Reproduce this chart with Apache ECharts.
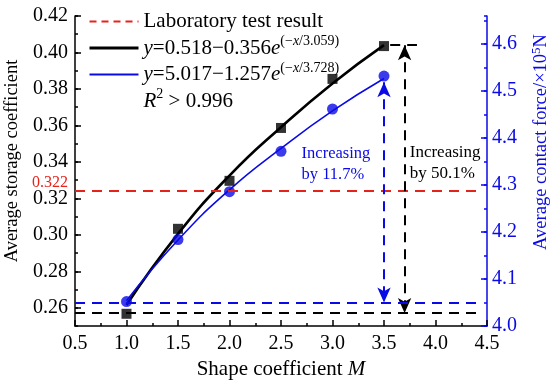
<!DOCTYPE html>
<html><head><meta charset="utf-8">
<script src="https://cdn.jsdelivr.net/npm/echarts@6/dist/echarts.min.js"></script>
<style>html,body{margin:0;padding:0;background:#fff}#c{width:550px;height:380px}</style>
</head><body><div id="c"></div>
<script>
// ---- data ----
var shapeM = [1.0, 1.5, 2.0, 2.5, 3.0, 3.5];
var storageCoef = [0.2567, 0.3033, 0.3296, 0.3586, 0.3855, 0.4035];      // black squares (left axis)
var contactForce = [4.052, 4.184, 4.286, 4.372, 4.462, 4.532];          // blue circles (right axis, x10^5 N)
var fitStorage = [0.2615, 0.3005, 0.3325, 0.3590, 0.3830, 0.4040];      // black fitted curve
var fitForce = [4.054, 4.183, 4.290, 4.378, 4.458, 4.527];              // blue fitted curve
var labValue = 0.3244, labLabel = '0.322';
var baseStorage = 0.2571, topStorage = 0.404;
var baseForce = 4.05, topForce = 4.519;
var xTicks = [0.5, 1.0, 1.5, 2.0, 2.5, 3.0, 3.5, 4.0, 4.5];
var leftTicks = [0.26, 0.28, 0.30, 0.32, 0.34, 0.36, 0.38, 0.40, 0.42];
var rightTicks = [4.0, 4.1, 4.2, 4.3, 4.4, 4.5, 4.6];

var FONT = "'Liberation Serif','Times New Roman',serif";
var BLUE = '#0a0ae6', RED = '#e5231b', BLACK = '#000';

function pairs(xs, ys){ return xs.map(function(x,i){return [x, ys[i]];}); }

var chart = echarts.init(document.getElementById('c'), null, {renderer:'canvas'});
var LF = 21;
var supStyle = {fontFamily: FONT, fontSize: 14, padding: [0,0,13,0], color: BLACK};
var supIt = Object.assign({}, supStyle, {fontStyle:'italic'});
var it = {fontFamily: FONT, fontSize: LF, fontStyle: 'italic', color: BLACK};
var nm = {fontFamily: FONT, fontSize: LF, color: BLACK};

chart.setOption({
  animation: false,
  textStyle: {fontFamily: FONT},
  grid: {left: 75, right: 63, top: 16, bottom: 54, containLabel: false, outerBoundsMode: 'none'},
  legend: {
    orient: 'vertical', left: 88, top: 11, padding: 0, itemWidth: 49, itemHeight: 12, itemGap: 2.5,
    itemStyle: {opacity: 0},
    textStyle: {fontFamily: FONT, fontSize: LF, color: BLACK,
      rich: {i: it, n: nm, s: supStyle, si: supIt}},
    data: [
      {name: 'lab'},
      {name: 'fitA', lineStyle: {width: 3}},
      {name: 'fitB', lineStyle: {width: 2}},
      {name: 'r2', icon: 'none'}
    ],
    formatter: function(n){
      if (n === 'lab') return '{n|Laboratory test result}';
      if (n === 'fitA') return '{i|y}{n|=0.518\u22120.356}{i|e}{s|(\u2212}{si|x}{s|/3.059)}';
      if (n === 'fitB') return '{i|y}{n|=5.017\u22121.257}{i|e}{s|(\u2212}{si|x}{s|/3.728)}';
      return '{i|R}{s|2}{n| > 0.996}';
    }
  },
  xAxis: {
    type: 'value', min: 0.5, max: 4.5, interval: 0.5,
    name: '{n|Shape coefficient }{i|M}', nameLocation: 'middle', nameGap: 27,
    nameTextStyle: {rich: {n: {fontFamily: FONT, fontSize: LF, color: BLACK}, i: {fontFamily: FONT, fontSize: LF, fontStyle:'italic', color: BLACK}}},
    axisLine: {show: true, lineStyle: {color: BLACK, width: 1.5}},
    axisTick: {inside: true, length: 6, lineStyle: {color: BLACK, width: 1.5}},
    minorTick: {show: true, splitNumber: 2, length: 3, lineStyle: {color: BLACK, width: 1.5}},
    axisLabel: {fontFamily: FONT, fontSize: 20, color: BLACK, margin: 8,
      formatter: function(v){ return v.toFixed(1); }},
    splitLine: {show: false}, minorSplitLine: {show: false}
  },
  yAxis: [
    {
      type: 'value', min: 0.25, max: 0.42, position: 'left',
      name: 'Average storage coefficient', nameLocation: 'middle', nameGap: 48,
      nameTextStyle: {fontFamily: FONT, fontSize: 18.5, color: BLACK, padding: [0,0,0,20]},
      axisLine: {show: true, lineStyle: {color: BLACK, width: 1.5}},
      axisTick: {inside: true, length: 6, customValues: leftTicks, lineStyle: {color: BLACK, width: 1.5}},
      axisLabel: {fontFamily: FONT, fontSize: 20, color: BLACK, margin: 7, customValues: leftTicks,
        formatter: function(v){ return v.toFixed(2); }},
      splitLine: {show: false}
    },
    {
      type: 'value', min: 4.0, max: 4.66, position: 'right',
      name: '{n|Average contact force/\u00d710}{s|5}{n|N}', nameLocation: 'middle', nameGap: 43, nameRotate: 90,
      nameTextStyle: {padding: [0,0,0,58], rich: {n: {fontFamily: FONT, fontSize: 18.5, color: BLUE}, s: {fontFamily: FONT, fontSize: 13, color: BLUE, padding:[0,0,10,0]}}},
      axisLine: {show: true, lineStyle: {color: BLUE, width: 1.5}},
      axisTick: {inside: true, length: 6, customValues: rightTicks, lineStyle: {color: BLUE, width: 1.5}},
      axisLabel: {fontFamily: FONT, fontSize: 20, color: BLUE, margin: 5, customValues: rightTicks,
        formatter: function(v){ return v.toFixed(1); }},
      splitLine: {show: false}
    },
    {
      type: 'value', min: 0.25, max: 0.42, interval: 0.01, position: 'left',
      axisLine: {show: false}, axisLabel: {show: false}, splitLine: {show: false},
      axisTick: {inside: true, length: 3, lineStyle: {color: BLACK, width: 1.5}}
    },
    {
      type: 'value', min: 4.0, max: 4.66, interval: 0.05, position: 'right',
      axisLine: {show: false}, axisLabel: {show: false}, splitLine: {show: false},
      axisTick: {inside: true, length: 3, lineStyle: {color: BLUE, width: 1.5}}
    }
  ],
  series: [
    {
      name: 'lab', type: 'line', data: [], yAxisIndex: 0, symbol: 'none',
      lineStyle: {color: RED, width: 2, type: [7, 5]}, itemStyle: {color: RED},
      markLine: {
        silent: true, symbol: 'none', animation: false,
        lineStyle: {color: RED, width: 2, type: [10, 7]},
        label: {show: false},
        data: [[{coord: [0.5, labValue]}, {coord: [4.4, labValue]}]]
      }
    },
    {
      name: 'fitA', type: 'line', smooth: true, symbol: 'none', yAxisIndex: 0,
      data: pairs(shapeM, fitStorage), lineStyle: {color: BLACK, width: 2.6}, itemStyle: {color: BLACK}, z: 3
    },
    {
      name: 'fitB', type: 'line', smooth: true, symbol: 'none', yAxisIndex: 1,
      data: pairs(shapeM, fitForce), lineStyle: {color: BLUE, width: 1.6}, itemStyle: {color: BLUE}, z: 3
    },
    {name: 'r2', type: 'line', data: [], symbol: 'none', lineStyle: {opacity: 0}},
    {
      name: 'ptsA', type: 'scatter', yAxisIndex: 0, symbol: 'rect', symbolSize: 10,
      itemStyle: {color: BLACK}, data: pairs(shapeM, storageCoef), z: 4,
      markLine: {
        silent: true, symbol: 'none', animation: false,
        lineStyle: {color: BLACK, width: 2, type: [10, 7]}, label: {show: false},
        data: [
          [{coord: [0.5, baseStorage]}, {coord: [4.4, baseStorage]}],
          [{coord: [3.56, topStorage]}, {coord: [3.82, topStorage]}],
          [{coord: [3.7, topStorage], symbol: 'arrow', symbolSize: [10, 15]},
           {coord: [3.7, baseStorage], symbol: 'arrow', symbolSize: [10, 15]}]
        ]
      },
      markPoint: {
        silent: true, symbol: 'circle', symbolSize: 0,
        label: {show: true, color: BLACK, fontFamily: FONT, fontSize: 17, lineHeight: 21, align: 'left',
          formatter: 'Increasing\nby 50.1%'},
        data: [{coord: [3.75, 0.3395]}]
      }
    },
    {
      name: 'ptsB', type: 'scatter', yAxisIndex: 1, symbol: 'circle', symbolSize: 11,
      itemStyle: {color: BLUE}, data: pairs(shapeM, contactForce), z: 4,
      markLine: {
        silent: true, symbol: 'none', animation: false,
        lineStyle: {color: BLUE, width: 2, type: [10, 7]}, label: {show: false},
        data: [
          [{coord: [0.5, baseForce]}, {coord: [4.4, baseForce]}],
          [{coord: [3.5, topForce], symbol: 'arrow', symbolSize: [10, 15]},
           {coord: [3.5, baseForce], symbol: 'arrow', symbolSize: [10, 15]}]
        ]
      },
      markPoint: {
        silent: true, symbol: 'circle', symbolSize: 0,
        label: {show: true, color: BLUE, fontFamily: FONT, fontSize: 16.5, lineHeight: 21, align: 'left',
          formatter: 'Increasing\nby 11.7%'},
        data: [{coord: [2.7, 4.345]}]
      }
    }
  ]
});

// red "0.322" tag placed next to the left axis at the lab-result line, via the axis scale
var labPx = chart.convertToPixel({yAxisIndex: 0}, labValue);
chart.setOption({
  graphic: [{
    type: 'text', silent: true,
    x: 68, y: labPx - 8,
    style: {text: labLabel, fill: RED, font: '16px ' + FONT, textAlign: 'right', textVerticalAlign: 'middle'}
  }]
});
</script></body></html>
